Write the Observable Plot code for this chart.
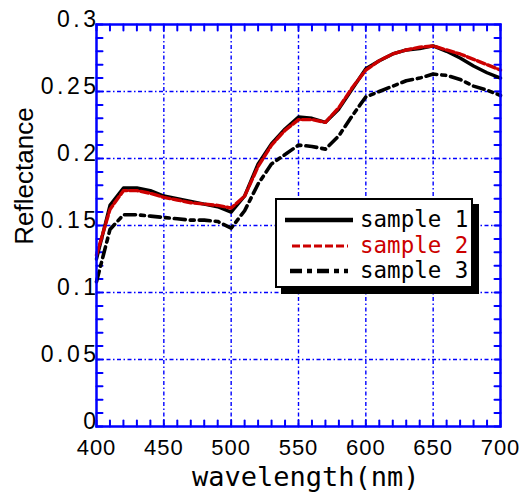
<!DOCTYPE html>
<html>
<head>
<meta charset="utf-8">
<script src="https://cdn.jsdelivr.net/npm/d3@7"></script>
<script src="https://cdn.jsdelivr.net/npm/@observablehq/plot@0.6"></script>
<style>
  html, body { margin: 0; padding: 0; background: #fff; }
  #wrap { position: relative; width: 523px; height: 497px; }
  .ttl { position: absolute; white-space: nowrap; color: #000; }
  #legend { position: absolute; left: 275px; top: 198px; width: 198px; height: 90px;
            border: 2px solid #000; background: #fff; box-shadow: 6px 6px 0 #000; box-sizing: border-box; }
  .row { position: absolute; left: 0; height: 24px; width: 100%; }
  .row svg { position: absolute; left: 8px; top: 0; }
  .row span { position: absolute; left: 83px; top: -2px; white-space: nowrap; font-family: "DejaVu Sans Mono", monospace; font-size: 22.5px; line-height: 26px; }
</style>
</head>
<body>
<div id="wrap"></div>
<script>
const wavelength = [400,410,420,430,440,450,460,470,480,490,500,510,520,530,540,550,560,570,580,590,600,610,620,630,640,650,660,670,680,690,700];
const sample1 = [0.125,0.165,0.178,0.178,0.176,0.172,0.170,0.168,0.166,0.164,0.160,0.172,0.196,0.211,0.222,0.231,0.230,0.227,0.237,0.252,0.267,0.273,0.278,0.281,0.282,0.284,0.280,0.275,0.269,0.264,0.260];
const sample2 = [0.128,0.162,0.176,0.176,0.174,0.171,0.169,0.167,0.166,0.165,0.163,0.172,0.194,0.210,0.221,0.229,0.229,0.227,0.238,0.253,0.266,0.273,0.278,0.281,0.283,0.284,0.281,0.278,0.274,0.270,0.266];
const sample3 = [0.108,0.147,0.158,0.158,0.157,0.156,0.155,0.154,0.154,0.153,0.148,0.161,0.181,0.196,0.203,0.210,0.209,0.207,0.217,0.232,0.246,0.250,0.254,0.258,0.260,0.263,0.262,0.259,0.254,0.251,0.247];
const seriesNames = ["sample 1", "sample 2", "sample 3"];
const xTicks = [400,450,500,550,600,650,700];
const yTicks = [0,0.05,0.1,0.15,0.2,0.25,0.3];
const xMinor = d3.range(400, 701, 10);
const yMinor = d3.range(0, 31, 1).map(v => v / 100);
const xTitle = "wavelength(nm)";
const yTitle = "Reflectance";

const rows = (vals) => wavelength.map((w, i) => ({w, v: vals[i]}));
const BLUE = "#0000ff";
const grid = {stroke: BLUE, strokeWidth: 1.4, strokeOpacity: 1, strokeDasharray: "4,2.5,1.5,2.5"};
const tickShape = {draw(context, l) { context.moveTo(0, 0); context.lineTo(0, -l); }};
const tk = {length: 6, anchor: "start", shape: tickShape, stroke: BLUE, strokeWidth: 2};

const svg = Plot.plot({
  width: 523, height: 497,
  marginLeft: 96, marginRight: 23, marginTop: 24, marginBottom: 71,
  x: {domain: [400, 700]},
  y: {domain: [0, 0.3]},
  style: {fontFamily: "Liberation Sans, Arial, sans-serif", color: "#000"},
  marks: [
    Plot.ruleX(xTicks.slice(1, -1), grid),
    Plot.ruleY(yTicks.slice(1, -1), grid),
    Plot.vector(xMinor, {x: d => d, frameAnchor: "bottom", rotate: 0, ...tk}),
    Plot.vector(xMinor, {x: d => d, frameAnchor: "top", rotate: 180, ...tk}),
    Plot.vector(yMinor, {y: d => d, frameAnchor: "left", rotate: 90, ...tk}),
    Plot.vector(yMinor, {y: d => d, frameAnchor: "right", rotate: -90, ...tk}),
    Plot.axisX({anchor: "bottom", ticks: xTicks, tickSize: 0, tickPadding: 13, fontSize: 22, fill: "#000", label: null, tickFormat: d => String(d)}),
    Plot.axisY({anchor: "left", ticks: yTicks, tickSize: 0, tickPadding: -3, fontSize: 23, fill: "#000", dy: -5, label: null, tickFormat: d => String(d)}),
    Plot.line(rows(sample3), {x: "w", y: "v", stroke: "#000", strokeWidth: 3.6, strokeDasharray: "11,5,4,5"}),
    Plot.line(rows(sample1), {x: "w", y: "v", stroke: "#000", strokeWidth: 3.4}),
    Plot.line(rows(sample2), {x: "w", y: "v", stroke: "#cc0000", strokeWidth: 3.4, strokeDasharray: "8,3"}),
    Plot.frame({stroke: BLUE, strokeWidth: 2.5})
  ]
});

svg.querySelectorAll('[aria-label="y-axis tick label"] text').forEach(t => t.setAttribute("letter-spacing", "3.5"));
svg.querySelectorAll('[aria-label="x-axis tick label"] text').forEach(t => t.setAttribute("letter-spacing", "1"));

const wrap = document.getElementById("wrap");
wrap.appendChild(svg);

const xt = document.createElement("div");
xt.className = "ttl";
xt.textContent = xTitle;
xt.style.cssText = "left:192px;top:460px;font-family:'DejaVu Sans Mono',monospace;font-size:27px;line-height:34px;";
wrap.appendChild(xt);

const yt = document.createElement("div");
yt.className = "ttl";
yt.textContent = yTitle;
yt.style.cssText = "left:24px;top:176px;font-family:'Liberation Sans',Arial,sans-serif;font-size:26px;line-height:30px;transform:translate(-50%,-50%) rotate(-90deg);";
wrap.appendChild(yt);

const legend = document.createElement("div");
legend.id = "legend";
const styles = [
  {color: "#000", dash: "", width: 4.5, text: "#000", x1: 0, x2: 68},
  {color: "#cc0000", dash: "8,3", width: 3, text: "#cc0000", x1: 7, x2: 63},
  {color: "#000", dash: "12,5,5,5", width: 4.5, text: "#000", x1: 5, x2: 63}
];
const tops = [8, 34, 59];
seriesNames.forEach((name, i) => {
  const s = styles[i];
  const row = document.createElement("div");
  row.className = "row";
  row.style.top = tops[i] + "px";
  row.innerHTML = `<svg width="72" height="24"><line x1="${s.x1}" x2="${s.x2}" y1="12" y2="12" stroke="${s.color}" stroke-width="${s.width}" stroke-dasharray="${s.dash}"/></svg><span style="color:${s.text}">${name}</span>`;
  legend.appendChild(row);
});
wrap.appendChild(legend);
</script>
</body>
</html>
